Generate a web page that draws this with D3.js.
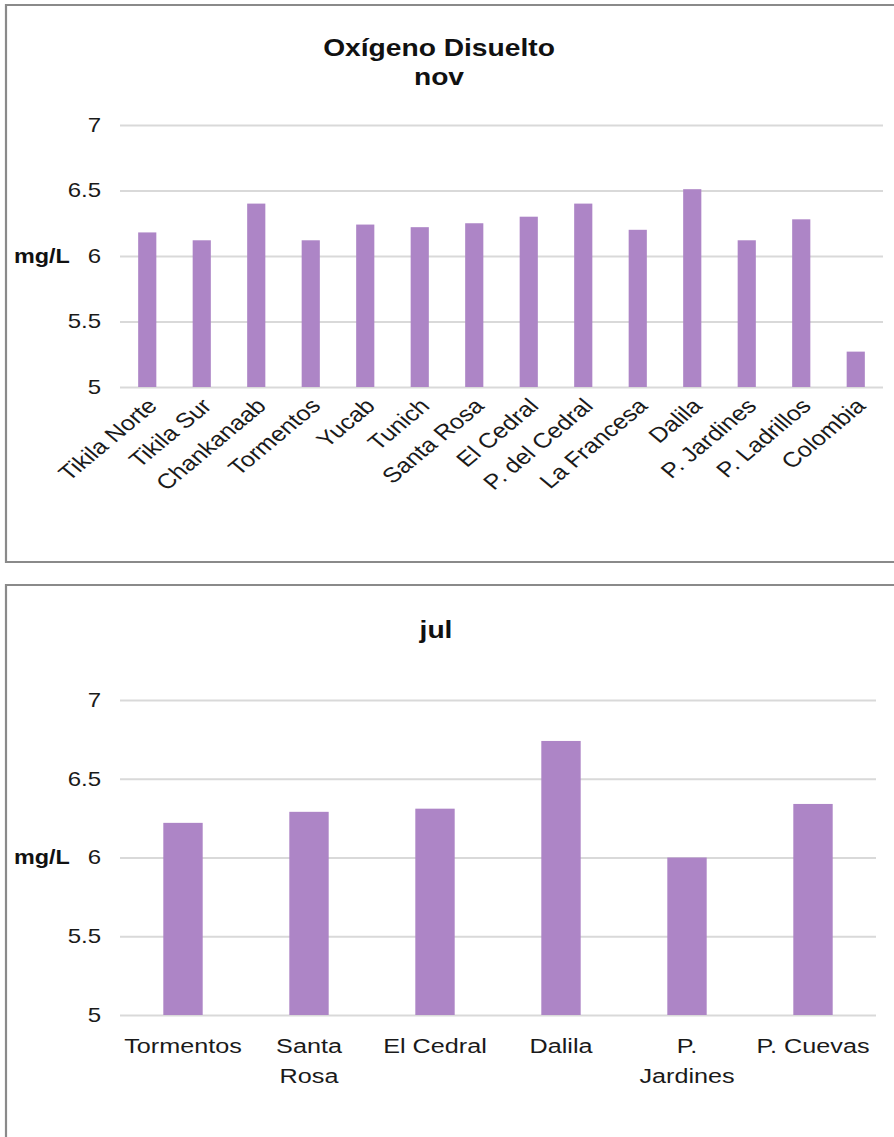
<!DOCTYPE html>
<html>
<head>
<meta charset="utf-8">
<script src="https://cdn.jsdelivr.net/npm/d3@7"></script>
<style>
  html, body { margin: 0; padding: 0; background: #fff; }
  svg { display: block; }
  text { font-family: "Liberation Sans", Arial, sans-serif; }
</style>
</head>
<body>
<svg id="chart"></svg>
<script>
// Dissolved oxygen (mg/L) per sampling site, November campaign
const novSites = ["Tikila Norte", "Tikila Sur", "Chankanaab", "Tormentos", "Yucab", "Tunich",
  "Santa Rosa", "El Cedral", "P. del Cedral", "La Francesa", "Dalila", "P. Jardines",
  "P. Ladrillos", "Colombia"];
const novValues = [6.18, 6.12, 6.40, 6.12, 6.24, 6.22, 6.25, 6.30, 6.40, 6.20, 6.51, 6.12, 6.28, 5.27];

// July campaign
const julSites = ["Tormentos", "Santa Rosa", "El Cedral", "Dalila", "P. Jardines", "P. Cuevas"];
const julLabelLines = [["Tormentos"], ["Santa", "Rosa"], ["El Cedral"], ["Dalila"], ["P.", "Jardines"], ["P. Cuevas"]];
const julValues = [6.22, 6.29, 6.31, 6.74, 6.00, 6.34];

const yTicks = [5, 5.5, 6, 6.5, 7];
const yDomain = [5, 7];
const chartTitle = "Oxígeno Disuelto";
const unitLabel = "mg/L";

const W = 894, H = 1137;
const SX = 1.2;              // horizontal stretch of the drawing
const VW = W / SX;
const vx = p => p / SX;      // pixel x -> drawing units

const barColor = "#ad85c6";
const gridColor = "#d9d9d9";
const frameColor = "#8a8a8a";
const textColor = "#1a1a1a";

const svg = d3.select("#chart")
  .attr("width", W).attr("height", H)
  .attr("viewBox", `0 0 ${VW} ${H}`)
  .attr("preserveAspectRatio", "none");

svg.append("rect").attr("width", VW).attr("height", H).attr("fill", "#fff");

function panel(cfg) {
  const g = svg.append("g");

  // chart frame
  g.append("rect")
    .attr("x", vx(cfg.frame.x)).attr("y", cfg.frame.y)
    .attr("width", vx(cfg.frame.w)).attr("height", cfg.frame.h)
    .attr("fill", "#fff").attr("stroke", frameColor).attr("stroke-width", 2.2)
    .attr("vector-effect", "non-scaling-stroke");

  // title lines
  cfg.titles.forEach(t => {
    g.append("text")
      .attr("x", vx(cfg.titleX)).attr("y", t.y)
      .attr("text-anchor", "middle")
      .attr("font-size", 23.5).attr("font-weight", "bold").attr("fill", "#111")
      .text(t.text);
  });

  const x = d3.scaleBand()
    .domain(cfg.sites)
    .range([vx(cfg.plot.x0), vx(cfg.plot.x1)])
    .paddingInner(cfg.padIn).paddingOuter(cfg.padIn / 2);

  const y = d3.scaleLinear().domain(yDomain).range([cfg.plot.y1, cfg.plot.y0]);

  // gridlines
  const grid = g.append("g")
    .attr("transform", `translate(${vx(cfg.plot.x0)},0)`)
    .call(d3.axisLeft(y).tickValues(yTicks).tickFormat("")
      .tickSize(-(vx(cfg.plot.x1) - vx(cfg.plot.x0))));
  grid.select(".domain").remove();
  grid.selectAll("line")
    .attr("stroke", gridColor).attr("stroke-width", 1.8)
    .attr("vector-effect", "non-scaling-stroke");

  // y tick labels
  const yAx = g.append("g")
    .attr("transform", `translate(${vx(cfg.plot.x0)},0)`)
    .call(d3.axisLeft(y).tickValues(yTicks).tickFormat(d => String(d))
      .tickSize(0).tickPadding(vx(19)));
  yAx.select(".domain").remove();
  yAx.selectAll("text")
    .attr("font-size", 20).attr("fill", textColor)
    .attr("font-family", "Liberation Sans, Arial, sans-serif");

  // unit label
  g.append("text")
    .attr("x", vx(14)).attr("y", y(6)).attr("dy", "0.35em")
    .attr("font-size", 19.5).attr("font-weight", "bold").attr("fill", "#111")
    .text(unitLabel);

  // bars
  g.append("g").selectAll("rect")
    .data(cfg.values)
    .join("rect")
    .attr("x", (d, i) => x(cfg.sites[i]))
    .attr("width", x.bandwidth())
    .attr("y", d => y(d))
    .attr("height", d => y(yDomain[0]) - y(d))
    .attr("fill", barColor);

  // category labels
  const xAx = g.append("g")
    .attr("transform", `translate(0,${cfg.plot.y1})`)
    .call(d3.axisBottom(x).tickSize(0).tickPadding(0));
  xAx.select(".domain").remove();
  xAx.selectAll("text")
    .attr("font-size", 21).attr("fill", textColor)
    .attr("font-family", "Liberation Sans, Arial, sans-serif");
  cfg.labelStyle(xAx.selectAll("text"));

  return g;
}

panel({
  frame: { x: 6, y: 5, w: 920, h: 557 },
  titleX: 439,
  titles: [{ text: chartTitle, y: 56 }, { text: "nov", y: 85 }],
  sites: novSites,
  values: novValues,
  plot: { x0: 120, x1: 883, y0: 125, y1: 387 },
  padIn: 2 / 3,
  labelStyle: sel => sel
    .attr("text-anchor", "end")
    .attr("y", null).attr("dy", "0.35em")
    .attr("transform", `translate(${vx(5)},15) rotate(-45)`)
});

panel({
  frame: { x: 6, y: 585, w: 920, h: 700 },
  titleX: 436,
  titles: [{ text: "jul", y: 638 }],
  sites: julSites,
  values: julValues,
  plot: { x0: 120, x1: 876, y0: 700, y1: 1015 },
  padIn: 2.2 / 3.2,
  labelStyle: sel => {
    sel.attr("text-anchor", "middle").attr("dy", null).attr("y", 38);
    sel.each(function (d, i) {
      const t = d3.select(this).text(null);
      julLabelLines[i].forEach((line, k) => {
        t.append("tspan").attr("x", 0).attr("dy", k === 0 ? 0 : 30).text(line);
      });
    });
  }
});
</script>
</body>
</html>
